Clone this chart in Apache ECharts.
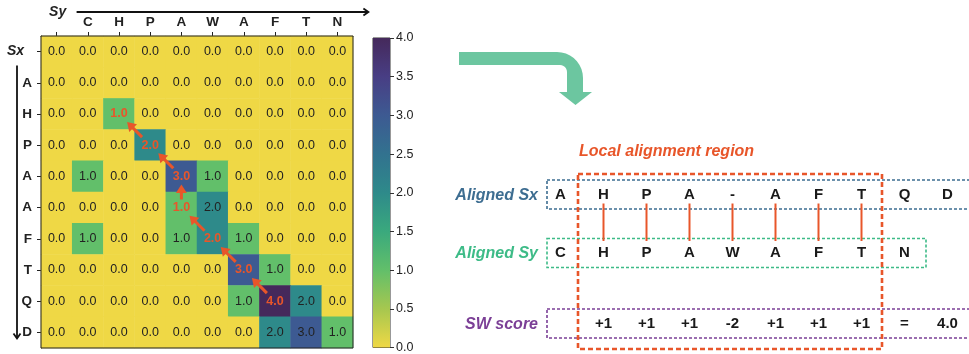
<!DOCTYPE html>
<html>
<head>
<meta charset="utf-8">
<script src="https://cdn.jsdelivr.net/npm/echarts@6/dist/echarts.min.js"></script>
<style>
html,body{margin:0;padding:0;background:#fff;}
#chart{width:969px;height:354px;}
</style>
</head>
<body>
<div id="chart"></div>
<script>
// ---------------- data ----------------
const xLabels = ['', 'C', 'H', 'P', 'A', 'W', 'A', 'F', 'T', 'N'];
const yLabels = ['Sx', 'A', 'H', 'P', 'A', 'A', 'F', 'T', 'Q', 'D'];
const scores = [
  [0,0,0,0,0,0,0,0,0,0],
  [0,0,0,0,0,0,0,0,0,0],
  [0,0,1,0,0,0,0,0,0,0],
  [0,0,0,2,0,0,0,0,0,0],
  [0,1,0,0,3,1,0,0,0,0],
  [0,0,0,0,1,2,0,0,0,0],
  [0,1,0,0,1,2,1,0,0,0],
  [0,0,0,0,0,0,3,1,0,0],
  [0,0,0,0,0,0,1,4,2,0],
  [0,0,0,0,0,0,0,2,3,1]
];
// traceback path cells [row, col], from start to end of local alignment
const tracePath = [[2,2],[3,3],[4,4],[5,4],[6,5],[7,6],[8,7]];
const colorbarMax = [4];
const colorbarTickStep = 0.5;

const alignedSx = ['A','H','P','A','-','A','F','T','Q','D'];
const alignedSy = ['C','H','P','A','W','A','F','T','N'];
const swScores  = ['', '+1','+1','+1','-2','+1','+1','+1','=','4.0'];
const matchCols = [1,2,3,4,5,6,7];
const rowNames = ['Aligned Sx', 'Aligned Sy', 'SW score'];
const regionTitle = 'Local alignment region';

// ---------------- styles ----------------
const FONT = "'Liberation Sans', Arial, Helvetica, sans-serif";
const ORANGE = '#e8562a';
const cmap = [
  [0.0, '#efd845'], [0.5, '#a6c74f'], [1.0, '#62bf6a'], [1.5, '#3aa97d'],
  [2.0, '#2e8a8a'], [2.5, '#32728f'], [3.0, '#3d5a92'], [3.5, '#483e84'], [4.0, '#45295b']
];

const highlight = new Set(tracePath.map(p => p[0] + '_' + p[1]));
const heatData = [];
scores.forEach((row, r) => row.forEach((v, c) => {
  const item = { value: [c, r, v] };
  if (highlight.has(r + '_' + c)) item.label = { color: ORANGE, fontWeight: 'bold' };
  heatData.push(item);
}));
const arrowData = [];
for (let i = tracePath.length - 1; i > 0; i--) {
  const from = tracePath[i], to = tracePath[i - 1];
  arrowData.push([from[1], from[0], to[1], to[0]]);
}

const chart = echarts.init(document.getElementById('chart'), null, { renderer: 'canvas' });

const option = {
  backgroundColor: '#fff',
  animation: false,
  textStyle: { fontFamily: FONT },
  grid: [
    { left: 41, top: 36, width: 312, height: 312, show: true, borderColor: '#222', borderWidth: 1, backgroundColor: 'transparent', z: 10 },
    { left: 373, top: 38, width: 17, height: 310, show: true, borderColor: '#333', borderWidth: 1, backgroundColor: 'transparent' }
  ],
  xAxis: [
    {
      type: 'category', gridIndex: 0, position: 'top', data: xLabels,
      axisLine: { show: true, lineStyle: { color: '#222', width: 1 } },
      axisTick: { show: true, alignWithLabel: true, length: 4, lineStyle: { color: '#222' } },
      axisLabel: { color: '#222', fontWeight: 'bold', fontSize: 13.5, margin: 7, fontFamily: FONT },
      splitLine: { show: false }
    },
    { type: 'category', gridIndex: 1, data: ['cb'], show: false }
  ],
  yAxis: [
    {
      type: 'category', gridIndex: 0, inverse: true, data: yLabels,
      axisLine: { show: true, lineStyle: { color: '#222', width: 1 } },
      axisTick: { show: true, alignWithLabel: true, length: 4, lineStyle: { color: '#222' } },
      axisLabel: {
        color: '#222', fontWeight: 'bold', fontSize: 13.5, margin: 9, fontFamily: FONT,
        formatter: (v, i) => i === 0 ? '{s|' + v + '}' : v,
        rich: { s: { fontStyle: 'italic', fontWeight: 'bold', fontSize: 14, color: '#222', padding: [0, 8, 0, 0], fontFamily: FONT } }
      },
      splitLine: { show: false }
    },
    {
      type: 'value', gridIndex: 1, position: 'right', min: 0, max: 4, interval: colorbarTickStep,
      axisLine: { show: false },
      axisTick: { show: true, length: 4, lineStyle: { color: '#333' } },
      axisLabel: { color: '#222', fontSize: 12.5, margin: 6, fontFamily: FONT, formatter: v => v.toFixed(1) },
      splitLine: { show: false }
    }
  ],
  visualMap: {
    type: 'continuous', show: false, min: 0, max: 4, seriesIndex: 0, dimension: 2,
    inRange: { color: cmap.map(c => c[1]) }
  },
  series: [
    {
      type: 'heatmap', xAxisIndex: 0, yAxisIndex: 0, data: heatData,
      label: { show: true, color: '#222', fontSize: 12.5, fontFamily: FONT, formatter: p => p.value[2].toFixed(1) },
      itemStyle: { borderWidth: 0 },
      emphasis: { disabled: true }
    },
    {
      type: 'custom', xAxisIndex: 0, yAxisIndex: 0, data: arrowData, z: 20,
      dimensions: ['fx', 'fy', 'tx', 'ty'],
      encode: { x: [0, 2], y: [1, 3] },
      renderItem: (params, api) => {
        const p1 = api.coord([api.value(0), api.value(1)]);
        const p2 = api.coord([api.value(2), api.value(3)]);
        const mx = (p1[0] + p2[0]) / 2, my = (p1[1] + p2[1]) / 2;
        let dx = p2[0] - p1[0], dy = p2[1] - p1[1];
        const d = Math.sqrt(dx * dx + dy * dy);
        dx /= d; dy /= d;
        const half = d * 0.24;
        const tail = [mx - dx * half, my - dy * half];
        const tip = [mx + dx * half, my + dy * half];
        const hl = 8.5, hw = 5.5;
        const base = [tip[0] - dx * hl, tip[1] - dy * hl];
        const nx = -dy, ny = dx;
        return {
          type: 'group',
          children: [
            { type: 'line', shape: { x1: tail[0], y1: tail[1], x2: base[0] + dx, y2: base[1] + dy }, style: { stroke: ORANGE, lineWidth: 3 } },
            { type: 'polygon', shape: { points: [tip, [base[0] + nx * hw, base[1] + ny * hw], [base[0] - nx * hw, base[1] - ny * hw]] }, style: { fill: ORANGE } }
          ]
        };
      }
    },
    {
      type: 'bar', xAxisIndex: 1, yAxisIndex: 1, data: colorbarMax, barWidth: '100%', silent: true,
      itemStyle: {
        color: new echarts.graphic.LinearGradient(0, 0, 0, 1,
          cmap.slice().reverse().map(c => ({ offset: 1 - c[0] / 4, color: c[1] })))
      }
    }
  ]
};
chart.setOption(option);

// ---------------- annotation graphics ----------------
const g = [];
const pSy = chart.convertToPixel({ xAxisIndex: 0 }, 0);
const lastCol = chart.convertToPixel({ xAxisIndex: 0 }, xLabels.length - 1);
const pSx = chart.convertToPixel({ yAxisIndex: 0 }, 0);
const lastRow = chart.convertToPixel({ yAxisIndex: 0 }, yLabels.length - 1);

// Sy label and arrow
g.push({ type: 'text', style: { text: 'Sy', x: pSy + 1, y: 12, font: "italic bold 14px " + FONT, fill: '#222', align: 'center', verticalAlign: 'middle', textAlign: 'center', textVerticalAlign: 'middle' } });
g.push({ type: 'line', shape: { x1: pSy + 20, y1: 12, x2: lastCol + 30, y2: 12 }, style: { stroke: '#111', lineWidth: 1.8 } });
g.push({ type: 'polyline', shape: { points: [[lastCol + 26, 8.5], [lastCol + 31, 12], [lastCol + 26, 15.5]] }, style: { stroke: '#111', lineWidth: 1.8, fill: 'none' } });
// Sx arrow
g.push({ type: 'line', shape: { x1: 17, y1: pSx + 14, x2: 17, y2: lastRow + 5 }, style: { stroke: '#111', lineWidth: 1.8 } });
g.push({ type: 'polyline', shape: { points: [[13.5, lastRow + 1], [17, lastRow + 6], [20.5, lastRow + 1]] }, style: { stroke: '#111', lineWidth: 1.8, fill: 'none' } });

// green bent arrow (polygon approximating rounded corner)
(function () {
  const pts = [[459, 52], [557, 52]];
  const R = 26, cx = 557, cy = 78; // outer arc center
  for (let a = -90; a <= 0; a += 10) {
    const t = a * Math.PI / 180;
    pts.push([cx + R * Math.cos(t), cy + R * Math.sin(t)]);
  }
  pts.push([583, 92], [592, 92], [575.5, 105], [559, 92], [567, 92], [567, 72]);
  const r = 7, icx = 560, icy = 72; // inner arc center
  for (let a = 0; a >= -90; a -= 15) {
    const t = a * Math.PI / 180;
    pts.push([icx + r * Math.cos(t), icy + r * Math.sin(t)]);
  }
  pts.push([459, 65]);
  g.push({ type: 'polygon', shape: { points: pts }, style: { fill: '#6cc6a0' } });
})();

// right panel layout
const colX = i => 560.5 + 43 * i;
const rowY = [194.5, 253, 323.5];
const rowColors = ['#3d6d91', '#3dbb87', '#7b3f96'];
const boxRight = [975, colX(8) + 21.5, 975];

rowNames.forEach((name, r) => {
  g.push({ type: 'text', style: { text: name, x: 538, y: rowY[r] + 1, font: "italic bold 16px " + FONT, fill: rowColors[r], align: 'right', verticalAlign: 'middle', textAlign: 'right', textVerticalAlign: 'middle' } });
  g.push({ type: 'rect', shape: { x: 547, y: rowY[r] - 14.5, width: boxRight[r] - 547, height: 29 }, style: { fill: 'none', stroke: rowColors[r], lineWidth: 1.6, lineDash: [3, 2] } });
});
[alignedSx, alignedSy, swScores].forEach((arr, r) => {
  arr.forEach((t, i) => {
    if (!t) return;
    g.push({ type: 'text', style: { text: t, x: colX(i), y: rowY[r], font: "bold 15px " + FONT, fill: '#1a1a1a', align: 'center', verticalAlign: 'middle', textAlign: 'center', textVerticalAlign: 'middle' } });
  });
});
matchCols.forEach(i => {
  g.push({ type: 'line', shape: { x1: colX(i), y1: rowY[0] + 9, x2: colX(i), y2: rowY[1] - 12 }, style: { stroke: ORANGE, lineWidth: 2 } });
});
// local alignment region
g.push({ type: 'rect', shape: { x: 578, y: 174, width: 304, height: 175 }, style: { fill: 'none', stroke: ORANGE, lineWidth: 2.6, lineDash: [5, 3] } });
g.push({ type: 'text', style: { text: regionTitle, x: 579, y: 152, font: "italic bold 16px " + FONT, fill: ORANGE, align: 'left', verticalAlign: 'middle', textAlign: 'left', textVerticalAlign: 'middle' } });

chart.setOption({ graphic: { elements: g } });
</script>
</body>
</html>
